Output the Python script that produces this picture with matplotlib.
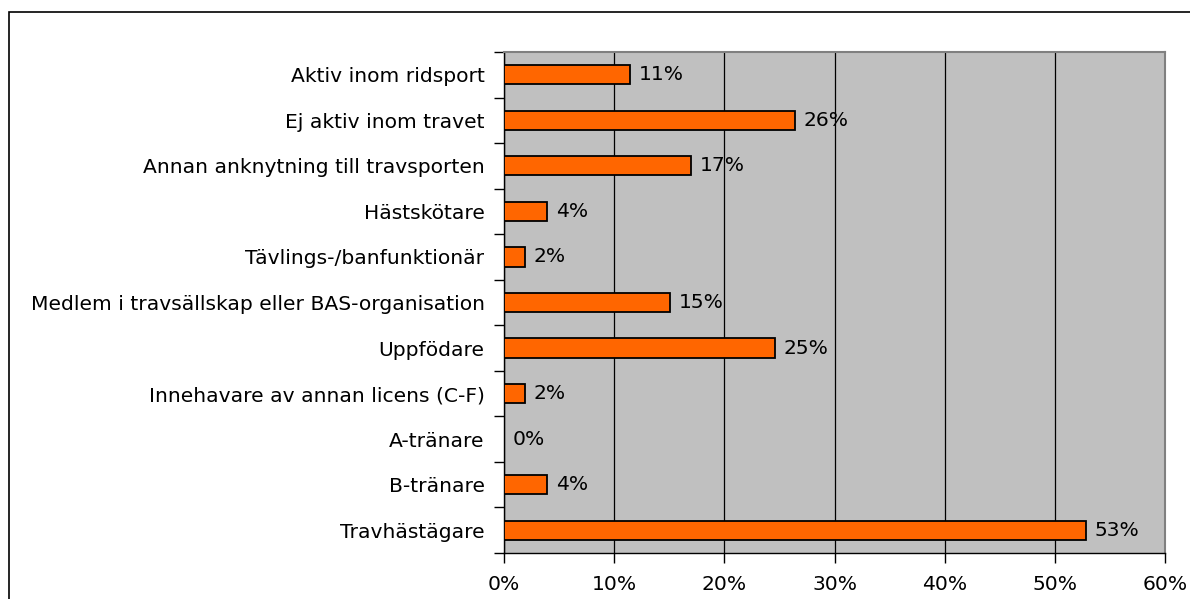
import matplotlib
matplotlib.use("agg")
from matplotlib import pyplot as plt
from matplotlib.patches import Rectangle
import numpy as np

categories = [
    "Aktiv inom ridsport",
    "Ej aktiv inom travet",
    "Annan anknytning till travsporten",
    "Hästskötare",
    "Tävlings-/banfunktionär",
    "Medlem i travsällskap eller BAS-organisation",
    "Uppfödare",
    "Innehavare av annan licens (C-F)",
    "A-tränare",
    "B-tränare",
    "Travhästägare",
]
shares = [11.4, 26.4, 17.0, 3.9, 1.9, 15.1, 24.6, 1.9, 0.0, 3.9, 52.8]
xticks = [0, 10, 20, 30, 40, 50, 60]

plt.rcParams["font.family"] = ["DejaVu Sans"]
FS = 14.6

fig = plt.figure(figsize=(11.9, 5.99), dpi=100)
fig.set_facecolor("white")

# outer frame, open to the right and bottom edges
fig.patches.append(Rectangle((9 / 1190, -0.05), 1.1, 1 - 12 / 599 + 0.05,
                             transform=fig.transFigure, fill=False,
                             edgecolor="black", linewidth=1.2))

ax = fig.add_axes((504 / 1190, 1 - 553 / 599, 661 / 1190, 501 / 599))
ax.set_facecolor("#C0C0C0")

y = np.arange(len(categories))
ax.barh(y, shares, height=0.42, color="#FF6600", edgecolor="black",
        linewidth=1.3, zorder=3)

for yi, v in zip(y, shares):
    ax.text(v + 0.8, yi, f"{v:.0f}%", va="center", ha="left",
            fontsize=FS, zorder=4)

ax.set_ylim(len(categories) - 0.5, -0.5)
ax.set_xlim(0, 60)

ax.set_xticks(xticks)
ax.set_xticklabels([f"{t}%" for t in xticks], fontsize=FS)
ax.xaxis.grid(True, color="black", linewidth=0.9, zorder=1)
ax.set_axisbelow(True)

# category labels placed at bar centres, tick marks between categories
ax.set_yticks(y)
ax.set_yticklabels(categories, fontsize=FS)
ax.tick_params(axis="y", length=0, pad=14)
ax.set_yticks(np.arange(len(categories) + 1) - 0.5, minor=True)
ax.tick_params(axis="y", which="minor", length=7, width=1, direction="out")
ax.tick_params(axis="x", length=7, width=1, direction="out", pad=9)

for side in ("top", "right"):
    ax.spines[side].set_color("#808080")
    ax.spines[side].set_linewidth(1.5)
for side in ("left", "bottom"):
    ax.spines[side].set_color("black")
    ax.spines[side].set_linewidth(1)

fig.savefig("out.png", dpi=100)
